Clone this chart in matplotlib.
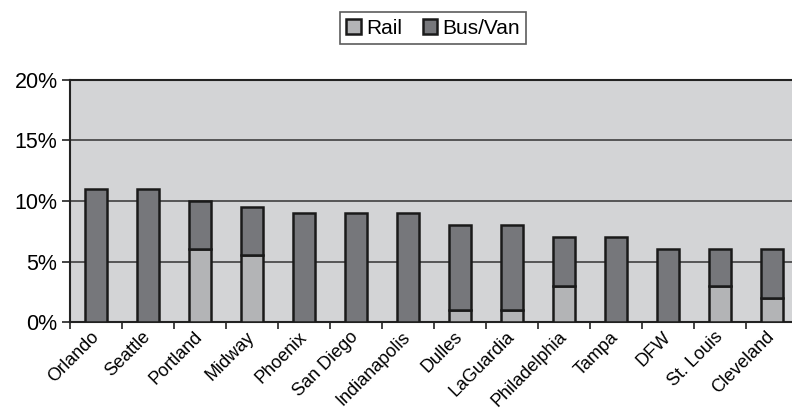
import matplotlib
matplotlib.use("Agg")
import matplotlib.pyplot as plt
import numpy as np
from matplotlib.ticker import PercentFormatter

plt.rcParams["font.family"] = ["Liberation Sans", "DejaVu Sans"]

airports = ["Orlando", "Seattle", "Portland", "Midway", "Phoenix", "San Diego",
            "Indianapolis", "Dulles", "LaGuardia", "Philadelphia", "Tampa", "DFW",
            "St. Louis", "Cleveland"]
rail = [0, 0, 6, 5.5, 0, 0, 0, 1, 1, 3, 0, 0, 3, 2]
bus_van = [11, 11, 4, 4, 9, 9, 9, 7, 7, 4, 7, 6, 3, 4]

fig = plt.figure(figsize=(7.92, 4.13), dpi=100)
ax = fig.add_axes([70 / 792, 1 - 322 / 413, 728 / 792, 242 / 413])
ax.set_facecolor("#d3d4d6")

x = np.arange(len(airports))
w = 0.42
ax.bar(x, rail, width=w, color="#b3b4b6", edgecolor="#1a1a1a", linewidth=1.8,
       label="Rail", zorder=3)
ax.bar(x, bus_van, width=w, bottom=rail, color="#76777b", edgecolor="#1a1a1a",
       linewidth=1.8, label="Bus/Van", zorder=3)

ax.set_xlim(-0.5, len(airports) - 0.5)
ax.set_ylim(0, 20)
ax.set_yticks([0, 5, 10, 15, 20])
ax.yaxis.set_major_formatter(PercentFormatter(decimals=0))
ax.grid(axis="y", color="#333333", linewidth=1.1, zorder=1)

ax.set_xticks(np.arange(len(airports) + 1) - 0.5)
ax.set_xticklabels([])
ax.set_xticks(x, minor=True)
ax.set_xticklabels(airports, minor=True, rotation=45, ha="right", va="center",
                   rotation_mode="anchor", fontsize=13)
ax.tick_params(axis="x", which="minor", length=0, pad=9)
ax.tick_params(axis="x", which="major", length=5, width=1.2, color="#222222")
ax.tick_params(axis="y", length=6, width=1.2, color="#222222", labelsize=15.5, pad=3)

ax.spines["right"].set_visible(False)
for side in ["left", "bottom", "top"]:
    ax.spines[side].set_color("#222222")
    ax.spines[side].set_linewidth(1.5)

leg = fig.legend(loc="center", bbox_to_anchor=(433 / 792, 1 - 28 / 413), ncol=2,
                 fontsize=15, frameon=True, fancybox=False, handlelength=0.7,
                 handleheight=0.7, handletextpad=0.25, columnspacing=1.0,
                 borderpad=0.3)
leg.get_frame().set_edgecolor("#333333")
leg.get_frame().set_linewidth(1.2)
for h in leg.legend_handles:
    h.set_linewidth(1.8)

fig.savefig("out.png", dpi=100)
